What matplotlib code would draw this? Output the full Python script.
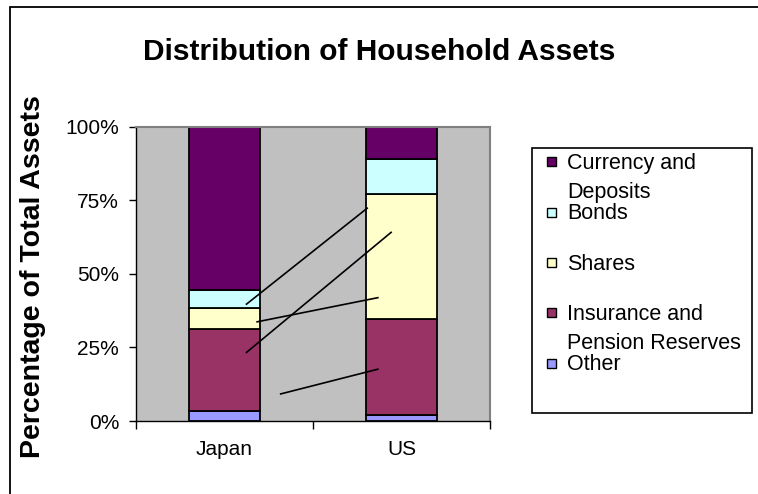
import matplotlib
matplotlib.use("Agg")
import matplotlib.pyplot as plt
from matplotlib.patches import Rectangle

plt.rcParams['font.family'] = ['Liberation Sans', 'DejaVu Sans']

# data
countries = ['Japan', 'US']
series = ['Currency and\nDeposits', 'Bonds', 'Shares',
          'Insurance and\nPension Reserves', 'Other']
colors = ['#660066', '#CCFFFF', '#FFFFCC', '#993366', '#9999FF']
# values in percent, stacked from the bottom (Other) to the top (Currency)
other = [3.4, 1.9]
insurance = [27.9, 32.6]
shares = [7.2, 42.8]
bonds = [6.0, 11.6]
currency = [55.5, 11.1]
yticks = [0, 25, 50, 75, 100]
ytick_labels = ['0%', '25%', '50%', '75%', '100%']

# stray leader lines left over from the data labels (category units, percent)
leader_x = [(0.125, 0.806), (0.125, 0.941), (0.185, 0.866), (0.318, 0.866)]
leader_y = [(39.7, 72.3), (23.3, 64.1), (33.7, 41.9), (9.2, 17.6)]

W, H = 758, 494
fig = plt.figure(figsize=(W / 100, H / 100), dpi=100)
ax = fig.add_axes([135.7 / W, 73 / H, 354.5 / W, 294.3 / H])
ax.set_facecolor('#C0C0C0')

stack = [other, insurance, shares, bonds, currency]
stack_colors = colors[::-1]
x = list(range(len(countries)))
bottom = [0.0] * len(countries)
for vals, col in zip(stack, stack_colors):
    ax.bar(x, vals, width=0.403, bottom=bottom, color=col,
           edgecolor='black', linewidth=1.3, zorder=2)
    bottom = [b + v for b, v in zip(bottom, vals)]

for lx, ly in zip(leader_x, leader_y):
    ax.plot(lx, ly, color='black', linewidth=1.2, zorder=3)

ax.set_xlim(-0.5, 1.5)
ax.set_ylim(0, 100)
ax.set_yticks(yticks)
ax.set_yticklabels(ytick_labels, fontsize=15)
ax.set_xticks([-0.5, 0.5, 1.5])
ax.set_xticklabels([])
ax.set_xticks(x, minor=True)
ax.set_xticklabels(countries, minor=True, fontsize=15)
ax.tick_params(axis='x', which='minor', length=0, pad=14)
ax.tick_params(axis='x', which='major', length=6, width=1)
ax.tick_params(axis='y', length=5, width=1, pad=7)

for s in ['left', 'bottom']:
    ax.spines[s].set_color('black')
    ax.spines[s].set_linewidth(1)
for s in ['top', 'right']:
    ax.spines[s].set_color('#808080')
    ax.spines[s].set_linewidth(1.5)

ax.set_ylabel('Percentage of Total Assets', fontsize=20.5, fontweight='bold')
ax.yaxis.set_label_coords(-0.253, 0.49)

fig.text(379 / W, 1 - 52 / H, 'Distribution of Household Assets',
         ha='center', va='center', fontsize=21.5, fontweight='bold')

# outer chart border (only top and left edges are visible in the crop)
fig.patches.append(Rectangle((10 / W, -0.1), 1.2, (H - 7) / H + 0.1,
                             transform=fig.transFigure, fill=False,
                             edgecolor='black', linewidth=1.3))

# legend box drawn by hand so the wrapped labels start next to the swatch
fig.patches.append(Rectangle((531.7 / W, 1 - 413.3 / H), 220 / W, 265.6 / H,
                             transform=fig.transFigure, facecolor='white',
                             edgecolor='black', linewidth=1.2))
for i, (name, col) in enumerate(zip(series, colors)):
    yc = 162 + i * 50.3
    fig.patches.append(Rectangle((547 / W, 1 - (yc + 4.5) / H), 9 / W, 9 / H,
                                 transform=fig.transFigure, facecolor=col,
                                 edgecolor='black', linewidth=1))
    fig.text(567 / W, 1 - (yc - 9) / H, name, ha='left', va='top',
             fontsize=15.5, linespacing=1.5)

fig.savefig('out.png', dpi=100)
